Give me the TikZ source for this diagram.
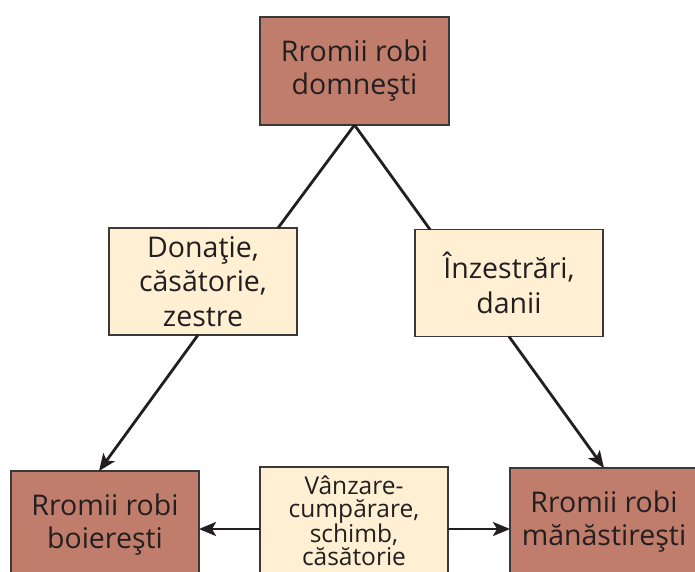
\documentclass[tikz,border=0pt]{standalone}
\usepackage{fontspec}
\setmainfont{Open Sans}
\usetikzlibrary{arrows.meta}
\definecolor{brownbox}{RGB}{193,125,108}
\definecolor{creambox}{RGB}{255,240,212}
\definecolor{inkc}{RGB}{35,31,32}
\definecolor{edgec}{RGB}{60,56,56}
\tikzset{
  boxbase/.style={draw=edgec, line width=1.5pt, minimum width=188pt, minimum height=107pt,
    inner sep=0pt, outer sep=0pt, align=center, text=inkc},
  bigbox/.style={boxbase, fill=brownbox, font=\fontsize{28.5}{33}\selectfont},
  midbox/.style={boxbase, fill=creambox, font=\fontsize{28.5}{34.5}\selectfont},
  smallbox/.style={boxbase, fill=creambox, font=\fontsize{24.5}{23}\selectfont},
  link/.style={draw=inkc, line width=2.8pt},
  arr/.style={link, -{Stealth[length=17pt,width=14pt,inset=4pt]}}
}
\begin{document}
\begin{tikzpicture}[x=1pt,y=-1pt]
\clip (0,0) rectangle (695,572);
\fill[white] (0,0) rectangle (695,572);
\node[bigbox, minimum width=189pt, minimum height=108pt] (top) at (354.5,71) {Rromii robi\\domneşti};
\node[midbox] (don) at (203,281.5) {Donaţie,\\căsătorie,\\zestre};
\node[midbox] (inz) at (509,283) {Înzestrări,\\danii};
\node[bigbox] (lb) at (105,524.5) {Rromii robi\\boiereşti};
\node[smallbox] (vc) at (354,520.5) {Vânzare-\\cumpărare,\\schimb,\\căsătorie};
\node[bigbox] (rb) at (604,521.5) {Rromii robi\\mănăstireşti};
\draw[link] (top.south) -- ([xshift=75pt]don.north);
\draw[link] (top.south) -- ([xshift=-79pt]inz.north);
\draw[arr] ([xshift=-5pt]don.south) -- ([xshift=-6pt]lb.north);
\draw[arr] (inz.south) -- (rb.north);
\draw[arr] ([yshift=-8.5pt]vc.west) -- ([yshift=-8.5pt]vc.west -| lb.east);
\draw[arr] ([yshift=-8.5pt]vc.east) -- ([yshift=-8.5pt]vc.east -| rb.west);
\end{tikzpicture}
\end{document}
